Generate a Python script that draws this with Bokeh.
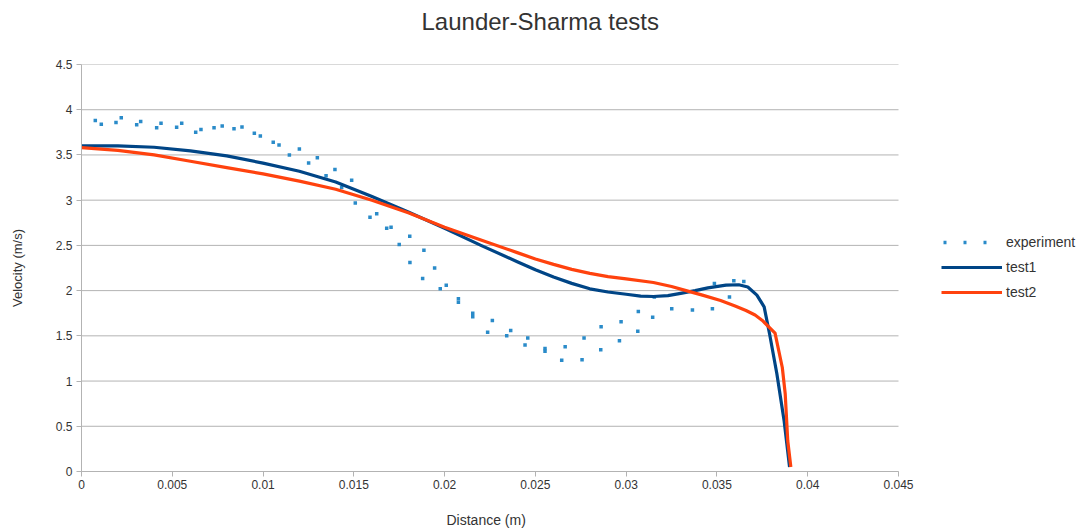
from bokeh.plotting import figure
from bokeh.models import (ColumnDataSource, FixedTicker, Legend, LegendItem, Title)
from bokeh.embed import file_html
from bokeh.resources import INLINE

# ---- data -------------------------------------------------------------
exp_x = [0.00076, 0.00109, 0.0019, 0.00219, 0.00304, 0.00326, 0.00414, 0.00438,
         0.00524, 0.00552, 0.00629, 0.00658, 0.0073, 0.00775, 0.0084, 0.00884,
         0.00952, 0.00985, 0.01056, 0.01088, 0.01145, 0.012, 0.01251, 0.01299,
         0.01347, 0.01396, 0.01433, 0.01488, 0.01508, 0.01589, 0.01626, 0.01681,
         0.01705, 0.0175, 0.01808, 0.01809, 0.01879, 0.01886, 0.01945, 0.01976,
         0.02009, 0.02076, 0.02076, 0.02155, 0.02155, 0.02237, 0.02263, 0.02342,
         0.02364, 0.02443, 0.02458, 0.02553, 0.02553, 0.02645, 0.02664, 0.02757,
         0.02768, 0.0286, 0.02862, 0.02963, 0.02972, 0.03064, 0.03067, 0.03146,
         0.03155, 0.03251, 0.03365, 0.03475, 0.03486, 0.03569, 0.03593, 0.03648]
exp_y = [3.88, 3.84, 3.86, 3.91, 3.835, 3.87, 3.80, 3.85,
         3.805, 3.85, 3.75, 3.78, 3.80, 3.82, 3.79, 3.81,
         3.74, 3.71, 3.64, 3.61, 3.50, 3.565, 3.41, 3.47,
         3.27, 3.34, 3.14, 3.22, 2.97, 2.81, 2.85, 2.69,
         2.70, 2.51, 2.60, 2.31, 2.135, 2.445, 2.25, 2.02,
         2.06, 1.87, 1.91, 1.71, 1.75, 1.54, 1.67, 1.50,
         1.56, 1.40, 1.475, 1.33, 1.36, 1.23, 1.38, 1.235,
         1.475, 1.345, 1.60, 1.445, 1.655, 1.55, 1.77, 1.705,
         1.93, 1.80, 1.785, 1.80, 2.08, 1.93, 2.11, 2.10]

test1_x = [0, 0.002, 0.004, 0.006, 0.008, 0.010, 0.012, 0.014, 0.016, 0.018,
           0.020, 0.022, 0.024, 0.025, 0.026, 0.027, 0.028, 0.029, 0.030,
           0.0308, 0.0315, 0.0323, 0.033, 0.0338, 0.0345, 0.0355, 0.0362,
           0.0367, 0.0372, 0.0376, 0.0379, 0.0383, 0.0387, 0.0390]
test1_y = [3.60, 3.60, 3.585, 3.545, 3.49, 3.41, 3.32, 3.20, 3.04, 2.87,
           2.69, 2.50, 2.32, 2.23, 2.15, 2.08, 2.02, 1.985, 1.96,
           1.94, 1.935, 1.945, 1.97, 2.00, 2.03, 2.06, 2.065,
           2.04, 1.95, 1.82, 1.52, 1.08, 0.56, 0.05]

test2_x = [0, 0.002, 0.004, 0.006, 0.008, 0.010, 0.012, 0.014, 0.016, 0.018,
           0.020, 0.022, 0.024, 0.025, 0.026, 0.027, 0.028, 0.029, 0.030,
           0.0315, 0.0325, 0.0333, 0.0342, 0.0352, 0.0360, 0.0366, 0.0371,
           0.0375, 0.0382, 0.0386, 0.03876, 0.0389, 0.03907]
test2_y = [3.58, 3.55, 3.50, 3.43, 3.36, 3.29, 3.21, 3.12, 3.00, 2.86,
           2.70, 2.56, 2.42, 2.35, 2.29, 2.235, 2.19, 2.155, 2.13,
           2.09, 2.045, 2.00, 1.95, 1.89, 1.83, 1.78, 1.73,
           1.67, 1.53, 1.15, 0.86, 0.34, 0.05]

x_ticks = [0, 0.005, 0.01, 0.015, 0.02, 0.025, 0.03, 0.035, 0.04, 0.045]
x_tick_labels = ["0", "0.005", "0.01", "0.015", "0.02", "0.025", "0.03", "0.035", "0.04", "0.045"]
y_ticks = [0, 0.5, 1, 1.5, 2, 2.5, 3, 3.5, 4, 4.5]
y_tick_labels = ["0", "0.5", "1", "1.5", "2", "2.5", "3", "3.5", "4", "4.5"]

title_text = "Launder-Sharma tests"
x_label = "Distance (m)"
y_label = "Velocity (m/s)"
series_names = ["experiment", "test1", "test2"]

# ---- styling / layout -------------------------------------------------
FONT = "Liberation Sans"
GRID = "#b3b3b3"
TXT = "#333333"
C_EXP = "#2a8bc9"
C_T1 = "#004586"
C_T2 = "#ff420e"

W, H = 1088, 530
LEFT, TOP, BOTTOM = 81, 64, 59
AXIS_PX = 817            # pixel length of the 0 .. 0.045 axis
x_min, x_max = x_ticks[0], x_ticks[-1]
frame_w = W - LEFT
x_end = x_max * frame_w / AXIS_PX   # extra room on the right holds the legend

p = figure(width=W, height=H, output_backend="svg", toolbar_location=None,
           x_range=(x_min, x_end), y_range=(y_ticks[0], y_ticks[-1]),
           min_border_left=LEFT, min_border_right=0, min_border_top=TOP,
           min_border_bottom=BOTTOM)
p.outline_line_color = None
p.background_fill_color = "white"
p.border_fill_color = "white"

# title: a thin spacer next to the frame, then the title text
p.add_layout(Title(text=" ", text_font_size="2px", standoff=26), "above")
p.add_layout(Title(text=title_text, align="left", offset=340, text_font=FONT,
                   text_font_size="24px", text_font_style="normal",
                   text_color=TXT, standoff=0), "above")

p.xgrid.grid_line_color = None
p.ygrid.grid_line_color = None
# horizontal grid lines limited to the axis extent
p.segment(x0=[x_min] * len(y_ticks), x1=[x_max] * len(y_ticks),
          y0=y_ticks, y1=y_ticks, line_color=GRID, line_width=1)

for ax in (p.xaxis[0], p.yaxis[0]):
    ax.axis_line_color = GRID
    ax.major_tick_line_color = GRID
    ax.major_tick_out = 5
    ax.major_tick_in = 0
    ax.minor_tick_line_color = None
    ax.major_label_text_font = FONT
    ax.major_label_text_font_size = "12px"
    ax.major_label_text_color = TXT
    ax.axis_label_text_font = FONT
    ax.axis_label_text_font_size = "13px"
    ax.axis_label_text_font_style = "normal"
    ax.axis_label_text_color = TXT

p.xaxis.bounds = (x_min, x_max)
p.xaxis.ticker = FixedTicker(ticks=x_ticks)
p.xaxis.major_label_overrides = {v: s for v, s in zip(x_ticks, x_tick_labels)}
p.yaxis.ticker = FixedTicker(ticks=y_ticks)
p.yaxis.major_label_overrides = {v: s for v, s in zip(y_ticks, y_tick_labels)}
p.yaxis.axis_label = y_label
p.xaxis.major_label_standoff = 3
p.yaxis.major_label_standoff = 4
p.yaxis.axis_label_standoff = 28

# x axis label as a below-title so that it centres on the 0..0.045 axis
p.add_layout(Title(text=" ", text_font_size="2px", standoff=14), "below")
p.add_layout(Title(text=x_label, align="left", offset=365, text_font=FONT,
                   text_font_size="14px", text_font_style="normal",
                   text_color=TXT, standoff=0), "below")

src_exp = ColumnDataSource(dict(x=exp_x, y=exp_y))
src_t1 = ColumnDataSource(dict(x=test1_x, y=test1_y))
src_t2 = ColumnDataSource(dict(x=test2_x, y=test2_y))

r_exp = p.scatter("x", "y", source=src_exp, size=3.5, marker="square",
                  color=C_EXP, line_color=None)
r_t1 = p.line("x", "y", source=src_t1, line_color=C_T1, line_width=3.2,
              line_join="round")
r_t2 = p.line("x", "y", source=src_t2, line_color=C_T2, line_width=3.2,
              line_join="round")

# legend glyph for the experiment series: a dotted line (not drawn in the plot)
nan = float("nan")
r_exp_leg = p.line([nan], [nan], line_color=C_EXP, line_width=3.5,
                   line_dash="3 17", line_dash_offset=18)

legend = Legend(items=[LegendItem(label=series_names[0], renderers=[r_exp_leg]),
                       LegendItem(label=series_names[1], renderers=[r_t1]),
                       LegendItem(label=series_names[2], renderers=[r_t2])],
                location=(860, 169), border_line_color=None, margin=0,
                background_fill_alpha=0, padding=0, spacing=5,
                glyph_width=61, glyph_height=20, label_height=20,
                label_standoff=4, label_text_font=FONT,
                label_text_font_size="14px", label_text_color=TXT)
p.add_layout(legend, "center")

open("out.html", "w").write(file_html(p, INLINE))
